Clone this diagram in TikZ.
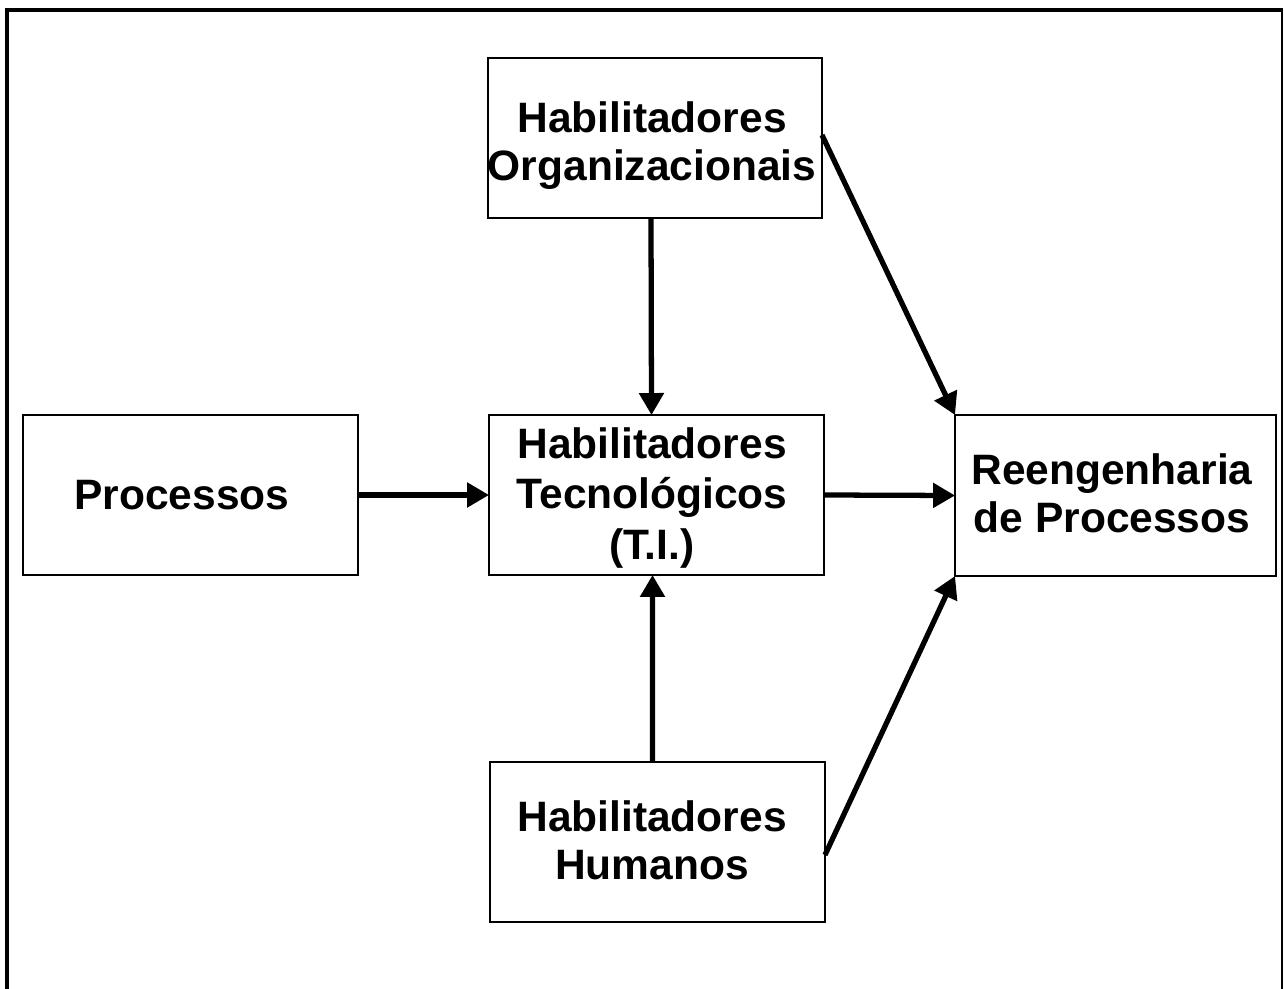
\documentclass[tikz,border=0pt]{standalone}
\usepackage{fontspec}
\setmainfont{Liberation Sans}
\usetikzlibrary{arrows.meta}

\tikzset{
  blockbox/.style={draw, line width=1.2pt, rectangle, inner sep=0pt, outer sep=0pt},
  boxtext/.style={inner sep=0pt, align=center,
    font=\bfseries\fontsize{24.2}{27.4}\selectfont},
  flowarrow/.style={line width=3pt, -{Triangle[length=0.44cm,width=0.48cm]}},
}

\begin{document}
\begin{tikzpicture}[x=0.02cm, y=-0.02cm]
  \useasboundingbox (0,0) rectangle (1284,989);

  % outer frame, open at the bottom
  \draw[line width=2.2pt] (7,989) -- (7,10);
  \draw[line width=2pt] (5,10) -- (1283,10);
  \draw[line width=1.2pt] (1282,10) -- (1282,989);

  % blocks
  \node[blockbox, minimum width=6.68cm, minimum height=3.2cm] (org) at (655,138) {};
  \node[blockbox, minimum width=6.7cm, minimum height=3.2cm] (proc) at (190.5,495) {};
  \node[blockbox, minimum width=6.7cm, minimum height=3.2cm] (tec) at (656.5,495) {};
  \node[blockbox, minimum width=6.42cm, minimum height=3.22cm] (reen) at (1115.5,495.5) {};
  \node[blockbox, minimum width=6.7cm, minimum height=3.2cm] (hum) at (657.5,842) {};

  % block labels
  \node[boxtext] (orgtxt) at (652,145.5) {Habilitadores\\Organizacionais};
  \node[boxtext] (proctxt) at (182,495) {Processos};
  \node[boxtext] (tectxt) at (652,498) {Habilitadores\\[0.8pt]Tecnológicos\\[1.6pt](T.I.)};
  \node[boxtext] (reentxt) at (1112,493.5) {Reengenharia\\de Processos};
  \node[boxtext] (humtxt) at (652,840) {Habilitadores\\Humanos};

  % connectors
  \draw[flowarrow] ([xshift=-0.08cm]org.south) -- ([xshift=-0.1cm]tec.north);
  \draw[flowarrow] (proc.east) -- (tec.west);
  \draw[flowarrow] (tec.east) -- (reen.west);
  \draw[flowarrow] ([xshift=-0.1cm]hum.north) -- ([xshift=-0.08cm]tec.south);
  \draw[flowarrow] ([yshift=0.06cm]org.east) -- (reen.north west);
  \draw[flowarrow] ([yshift=-0.26cm]hum.east) -- (reen.south west);
\end{tikzpicture}
\end{document}
